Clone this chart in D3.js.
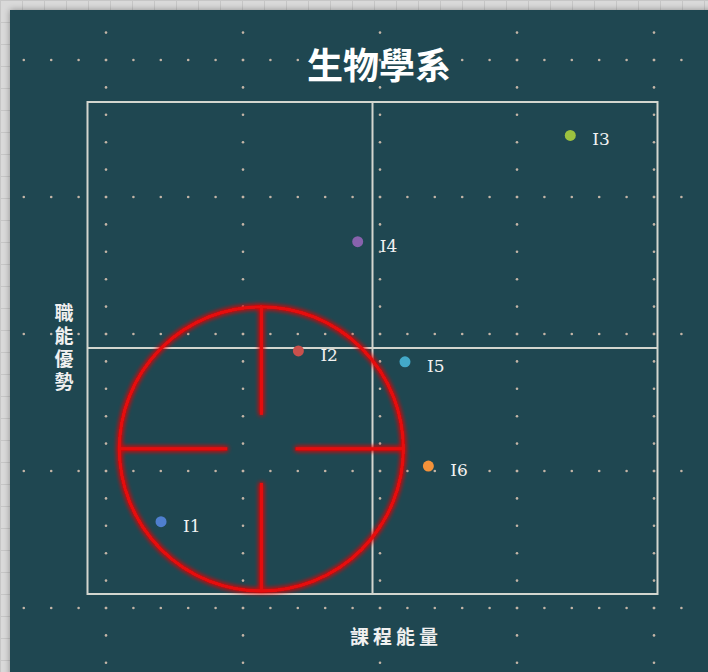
<!DOCTYPE html>
<html>
<head>
<meta charset="utf-8">
<script src="https://cdn.jsdelivr.net/npm/d3@7"></script>
<style>
  html, body { margin: 0; padding: 0; background: #d8d8d8; }
  svg { display: block; }
</style>
</head>
<body>
<svg id="chart" width="708" height="672"></svg>
<script>
// ---- data ----
const categories = ["I1", "I2", "I3", "I4", "I5", "I6"];
const xValues = [1.29, 3.70, 8.47, 4.74, 5.57, 5.98];   // 課程能量
const yValues = [1.47, 4.94, 9.32, 7.16, 4.72, 2.60];   // 職能優勢
const pointColors = ["#4f7fcf", "#c9504c", "#9cc13f", "#8862ad", "#43a9c9", "#f4923a"];
const xDomain = [0, 10];
const yDomain = [0, 10];
const targetCenter = [3.05, 2.95];
const titleText = "生物學系";
const xLabelText = "課程能量";
const yLabelText = "職能優勢";

// ---- setup ----
const W = 708, H = 672;
const svg = d3.select("#chart");

const defs = svg.append("defs");
const glow = defs.append("filter").attr("id", "glow")
  .attr("x", "-20%").attr("y", "-20%").attr("width", "140%").attr("height", "140%");
glow.append("feGaussianBlur").attr("in", "SourceGraphic").attr("stdDeviation", 2.5).attr("result", "blur");
const merge = glow.append("feMerge");
merge.append("feMergeNode").attr("in", "blur");
merge.append("feMergeNode").attr("in", "blur");
merge.append("feMergeNode").attr("in", "SourceGraphic");

const shadow = defs.append("filter").attr("id", "shadow")
  .attr("x", "-5%").attr("y", "-5%").attr("width", "110%").attr("height", "110%");
shadow.append("feGaussianBlur").attr("in", "SourceAlpha").attr("stdDeviation", 3);

// outer light grey "sheet" background with faint grid
const outer = svg.append("g");
outer.append("rect").attr("width", W).attr("height", H).attr("fill", "#d9d9d9");
d3.range(0, W, 22).forEach(v => outer.append("line")
  .attr("x1", v + 0.5).attr("x2", v + 0.5).attr("y1", 0).attr("y2", H)
  .attr("stroke", "#c6c6c6").attr("stroke-width", 1));
d3.range(0, H, 22).forEach(v => outer.append("line")
  .attr("y1", v + 0.5).attr("y2", v + 0.5).attr("x1", 0).attr("x2", W)
  .attr("stroke", "#c6c6c6").attr("stroke-width", 1));

// panel
svg.append("rect").attr("x", 10).attr("y", 10).attr("width", W).attr("height", H)
  .attr("fill", "#000").attr("opacity", 0.35).attr("filter", "url(#shadow)");
svg.append("rect").attr("x", 10).attr("y", 10).attr("width", W - 10).attr("height", H - 10)
  .attr("fill", "#1f4751");

// decorative dotted grid
const dots = svg.append("g").attr("fill", "#c4b5a7");
const major = 137, minor = 27.4;
const rowsY = d3.range(60, H, major);
const colsX = d3.range(106, W, major);
rowsY.forEach(ry => {
  for (let x = 106 - 3 * minor; x < W - 8; x += minor)
    dots.append("circle").attr("cx", x).attr("cy", ry).attr("r", 1.3);
});
colsX.forEach(cx => {
  for (let y = 60 - minor; y < H - 5; y += minor)
    dots.append("circle").attr("cx", cx).attr("cy", y).attr("r", 1.3);
});

// scales
const x = d3.scaleLinear().domain(xDomain).range([87.5, 657.5]);
const y = d3.scaleLinear().domain(yDomain).range([594, 102]);

// frame + quadrant lines
const frame = svg.append("g").attr("fill", "none").attr("stroke", "#d3d6cf").attr("stroke-width", 2);
frame.append("rect")
  .attr("x", x(xDomain[0])).attr("y", y(yDomain[1]))
  .attr("width", x(xDomain[1]) - x(xDomain[0]))
  .attr("height", y(yDomain[0]) - y(yDomain[1]));
const xMid = (xDomain[0] + xDomain[1]) / 2, yMid = (yDomain[0] + yDomain[1]) / 2;
frame.append("line").attr("x1", x(xMid)).attr("x2", x(xMid)).attr("y1", y(yDomain[0])).attr("y2", y(yDomain[1]));
frame.append("line").attr("y1", y(yMid)).attr("y2", y(yMid)).attr("x1", x(xDomain[0])).attr("x2", x(xDomain[1]));

// crosshair target
const tx = x(targetCenter[0]), ty = y(targetCenter[1]);
const R = 142, gap = 34;
const cross = svg.append("g").attr("stroke", "#e60a0a").attr("stroke-width", 3.2)
  .attr("fill", "none").attr("filter", "url(#glow)");
cross.append("circle").attr("cx", tx).attr("cy", ty).attr("r", R);
cross.append("line").attr("x1", tx).attr("x2", tx).attr("y1", ty - R).attr("y2", ty - gap);
cross.append("line").attr("x1", tx).attr("x2", tx).attr("y1", ty + gap).attr("y2", ty + R);
cross.append("line").attr("y1", ty).attr("y2", ty).attr("x1", tx - R).attr("x2", tx - gap);
cross.append("line").attr("y1", ty).attr("y2", ty).attr("x1", tx + gap).attr("x2", tx + R);

// points
const data = categories.map((c, i) => ({ name: c, x: xValues[i], y: yValues[i], color: pointColors[i] }));
const pts = svg.append("g");
pts.selectAll("circle").data(data).join("circle")
  .attr("cx", d => x(d.x)).attr("cy", d => y(d.y)).attr("r", 5.5)
  .attr("fill", d => d.color);
pts.selectAll("text").data(data).join("text")
  .attr("x", d => x(d.x) + 22).attr("y", d => y(d.y) + 10)
  .attr("font-family", "'DejaVu Serif', 'Liberation Serif', serif")
  .attr("font-size", 17).attr("fill", "#f2f2f2")
  .text(d => d.name);

// title
svg.append("text").attr("x", 379).attr("y", 63)
  .attr("text-anchor", "middle").attr("dominant-baseline", "central")
  .attr("font-family", "'Noto Sans CJK TC', 'Noto Sans CJK SC', sans-serif")
  .attr("font-weight", "bold").attr("font-size", 36).attr("fill", "#ffffff")
  .text(titleText);

// x label
svg.append("text").attr("x", 396).attr("y", 635)
  .attr("text-anchor", "middle").attr("dominant-baseline", "central")
  .attr("font-family", "'Noto Sans CJK TC', 'Noto Sans CJK SC', sans-serif")
  .attr("font-weight", "bold").attr("font-size", 19).attr("letter-spacing", 4)
  .attr("fill", "#f0f0f0")
  .text(xLabelText);

// y label (vertical writing)
svg.append("text").attr("x", 64).attr("y", 349)
  .attr("text-anchor", "middle")
  .style("writing-mode", "vertical-rl")
  .style("text-orientation", "upright")
  .attr("letter-spacing", 4)
  .attr("font-family", "'Noto Sans CJK TC', 'Noto Sans CJK SC', sans-serif")
  .attr("font-weight", "bold").attr("font-size", 19).attr("fill", "#f0f0f0")
  .text(yLabelText);
</script>
</body>
</html>
